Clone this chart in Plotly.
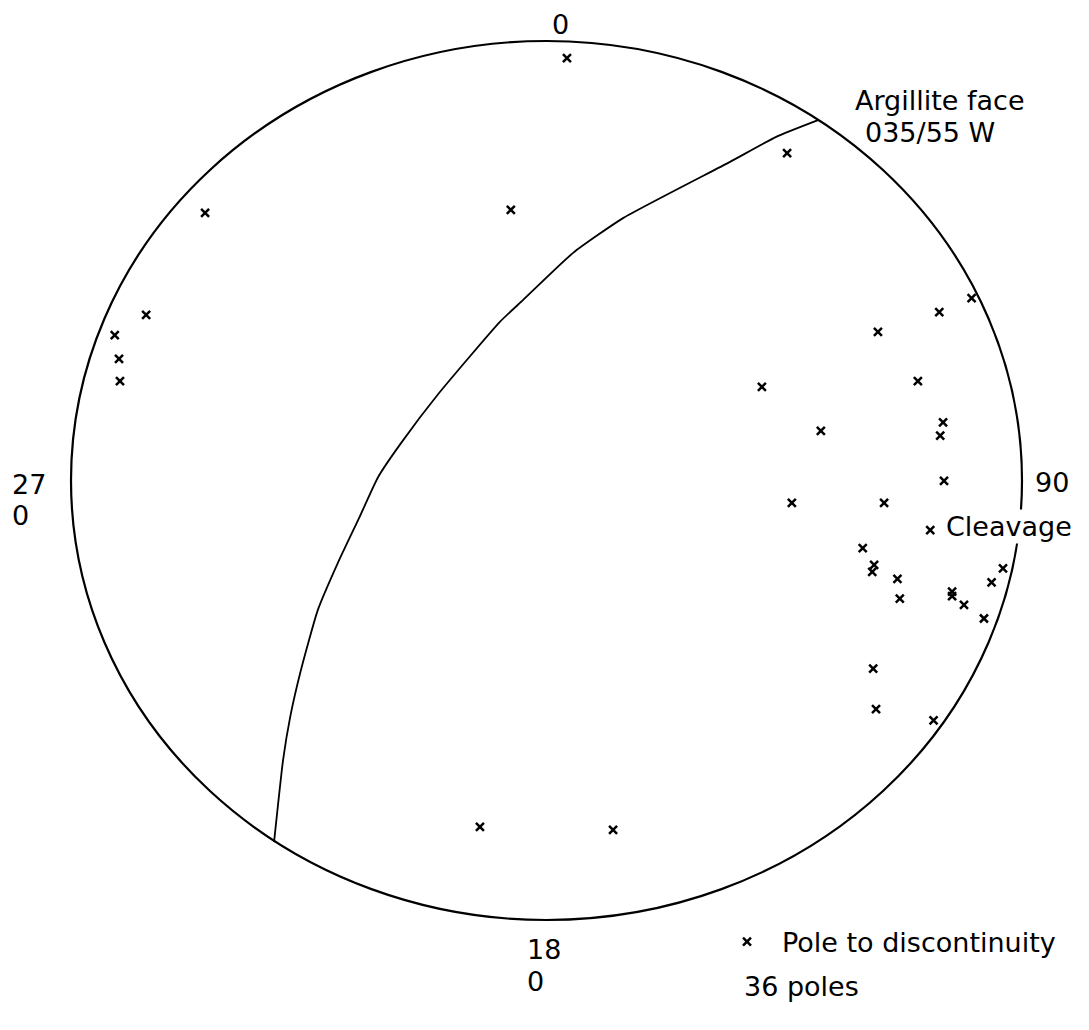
import plotly.graph_objects as go

# Poles to discontinuities, projected coordinates (east, north) on the unit net
pole_east = [0.043, 0.506, -0.718, -0.075, -0.842, -0.908, -0.899, -0.897,
             0.894, 0.826, 0.697, 0.781, 0.453, 0.834, 0.828, 0.577,
             0.836, 0.516, 0.710, 0.807, 0.665, 0.689, 0.685, 0.738,
             0.743, 0.960, 0.936, 0.853, 0.853, 0.878, 0.920, 0.687,
             0.693, 0.814, -0.140, 0.140]
pole_north = [0.961, 0.745, 0.609, 0.616, 0.377, 0.331, 0.277, 0.226,
              0.415, 0.383, 0.338, 0.226, 0.213, 0.132, 0.102, 0.113,
              -0.001, -0.051, -0.051, -0.113, -0.154, -0.192, -0.208, -0.224,
              -0.269, -0.200, -0.232, -0.253, -0.263, -0.283, -0.314, -0.428,
              -0.520, -0.546, -0.788, -0.795]

# Great circle of the argillite face (035/55 W)
face_east = [0.571, 0.483, 0.386, 0.161, 0.056, -0.049, -0.098, -0.226, -0.306,
             -0.354, -0.394, -0.439, -0.481, -0.518, -0.539, -0.554, -0.573]
face_north = [0.820, 0.782, 0.725, 0.597, 0.518, 0.411, 0.361, 0.199, 0.085,
              0.008, -0.085, -0.188, -0.295, -0.438, -0.538, -0.636, -0.823]

W, H = 1089, 1030
OFF = 8  # page body margin
FONT = "DejaVu Sans"
FS = 27


def fx(px):
    return (px - OFF) / W


def fy(py):
    return 1 - (py - OFF) / H


fig = go.Figure()

fig.add_trace(go.Scatter(
    x=face_east, y=face_north, mode="lines",
    line=dict(color="black", width=1.8, shape="spline", smoothing=0.5),
    showlegend=False, hoverinfo="skip"))

fig.add_trace(go.Scatter(
    x=pole_east, y=pole_north, mode="markers", name="Pole to discontinuity",
    marker=dict(symbol="x-thin", size=8, line=dict(color="black", width=2.5),
                color="black"),
    showlegend=True))

# primitive circle
fig.add_shape(type="circle", xref="x", yref="y", x0=-1, x1=1, y0=-1, y1=1,
              line=dict(color="black", width=2.2), layer="below")

ann = dict(showarrow=False, font=dict(family=FONT, size=FS, color="black"),
           xref="paper", yref="paper")
fig.add_annotation(text="0", x=fx(560.5), y=1, xanchor="center", yanchor="top",
                   borderpad=0, **ann)
fig.add_annotation(text="27", x=fx(10), y=fy(484), xanchor="left", yanchor="middle", **ann)
fig.add_annotation(text="0", x=fx(10), y=fy(515), xanchor="left", yanchor="middle", **ann)
fig.add_annotation(text="18", x=fx(525), y=fy(949), xanchor="left", yanchor="middle", **ann)
fig.add_annotation(text="0", x=fx(525), y=fy(981), xanchor="left", yanchor="middle", **ann)
fig.add_annotation(text="90", x=fx(1033), y=fy(482), xanchor="left", yanchor="middle", **ann)
fig.add_annotation(text="Cleavage", x=fx(944), y=fy(526), xanchor="left", yanchor="middle",
                   bgcolor="white", **ann)
fig.add_annotation(text="Argillite face", x=fx(853), y=fy(101), xanchor="left", yanchor="middle", **ann)
fig.add_annotation(text="035/55 W", x=fx(863), y=fy(132), xanchor="left", yanchor="middle", **ann)
fig.add_annotation(text="36 poles", x=fx(742), y=fy(986), xanchor="left", yanchor="middle", **ann)

cx, rx, cy, ry = 546.5 - OFF, 475.5, 480.5 - OFF, 439.5
fig.update_layout(
    width=W, height=H,
    margin=dict(l=0, r=0, t=0, b=0),
    paper_bgcolor="white", plot_bgcolor="white",
    xaxis=dict(range=[-cx / rx, (W - cx) / rx], visible=False, fixedrange=True),
    yaxis=dict(range=[(cy - H) / ry, cy / ry], visible=False, fixedrange=True),
    showlegend=True,
    legend=dict(x=fx(712), y=fy(942), xanchor="left", yanchor="middle",
                itemwidth=60,
                font=dict(family=FONT, size=FS, color="black"),
                bgcolor="rgba(0,0,0,0)", borderwidth=0),
)

fig.write_html("out.html")
